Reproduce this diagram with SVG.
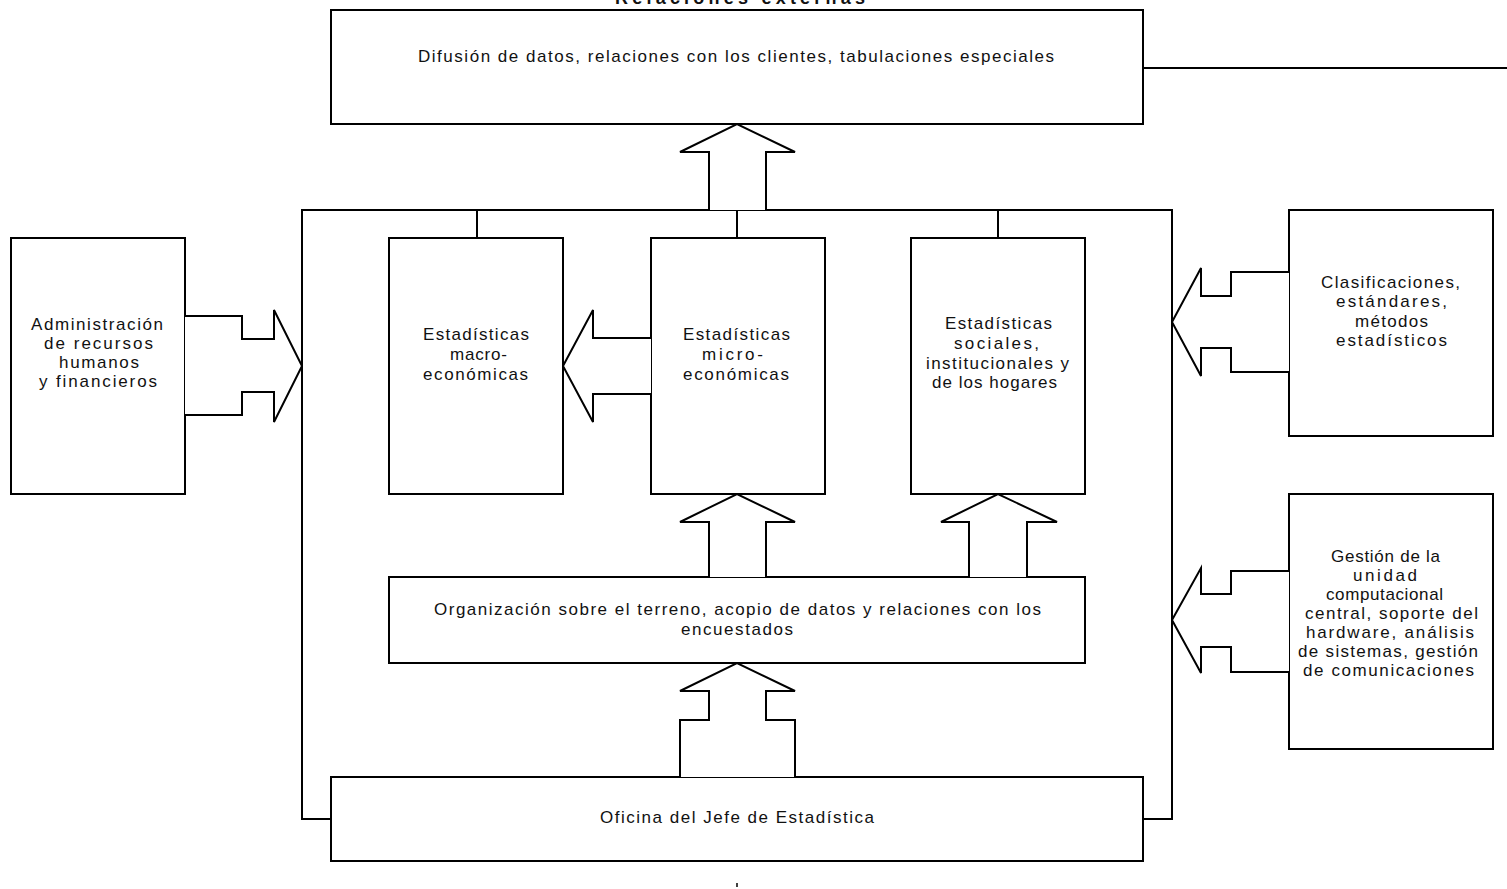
<svg xmlns="http://www.w3.org/2000/svg" width="1507" height="889" viewBox="0 0 1507 889">
<style>
.box{fill:#fff;stroke:#000;stroke-width:2}
.ln{fill:none;stroke:#000;stroke-width:2}
.arw{fill:#fff;stroke:#000;stroke-width:2;stroke-linejoin:miter}
text{font-family:"Liberation Sans",Arial,sans-serif;font-size:17px;fill:#111}
.ttl{font-weight:bold;font-size:18px}
</style>
<rect width="1507" height="889" fill="#fff"/>
<g id="frame">
<path class="ln" d="M331,819 H302 V210 H1172 V819 H1143"/>
</g>
<g id="title">
<text class="ttl" x="615" y="4" textLength="250" lengthAdjust="spacing">Relaciones externas</text>
</g>
<g id="difusion">
<rect class="box" x="331" y="10" width="812" height="114"/>
<text x="418" y="62" textLength="636" lengthAdjust="spacing">Difusión de datos, relaciones con los clientes, tabulaciones especiales</text>
</g>
<g id="administracion">
<rect class="box" x="11" y="238" width="174" height="256"/>
<text x="31" y="330" textLength="132" lengthAdjust="spacing">Administración</text>
<text x="44" y="349" textLength="109" lengthAdjust="spacing">de recursos</text>
<text x="59" y="368" textLength="80" lengthAdjust="spacing">humanos</text>
<text x="39" y="387" textLength="118" lengthAdjust="spacing">y financieros</text>
</g>
<g id="macro">
<rect class="box" x="389" y="238" width="174" height="256"/>
<text x="423" y="340" textLength="106" lengthAdjust="spacing">Estadísticas</text>
<text x="450" y="360" textLength="57" lengthAdjust="spacing">macro-</text>
<text x="423" y="380" textLength="105" lengthAdjust="spacing">económicas</text>
</g>
<g id="micro">
<rect class="box" x="651" y="238" width="174" height="256"/>
<text x="683" y="340" textLength="107" lengthAdjust="spacing">Estadísticas</text>
<text x="702" y="360" textLength="61" lengthAdjust="spacing">micro-</text>
<text x="683" y="380" textLength="106" lengthAdjust="spacing">económicas</text>
</g>
<g id="sociales">
<rect class="box" x="911" y="238" width="174" height="256"/>
<text x="945" y="329" textLength="107" lengthAdjust="spacing">Estadísticas</text>
<text x="954" y="349" textLength="85" lengthAdjust="spacing">sociales,</text>
<text x="926" y="369" textLength="143" lengthAdjust="spacing">institucionales y</text>
<text x="932" y="388" textLength="125" lengthAdjust="spacing">de los hogares</text>
</g>
<g id="clasificaciones">
<rect class="box" x="1289" y="210" width="204" height="226"/>
<text x="1321" y="288" textLength="139" lengthAdjust="spacing">Clasificaciones,</text>
<text x="1336" y="307" textLength="111" lengthAdjust="spacing">estándares,</text>
<text x="1355" y="327" textLength="73" lengthAdjust="spacing">métodos</text>
<text x="1336" y="346" textLength="111" lengthAdjust="spacing">estadísticos</text>
</g>
<g id="gestion">
<rect class="box" x="1289" y="494" width="204" height="255"/>
<text x="1331" y="562" textLength="109" lengthAdjust="spacing">Gestión de la</text>
<text x="1353" y="581" textLength="64" lengthAdjust="spacing">unidad</text>
<text x="1326" y="600" textLength="117" lengthAdjust="spacing">computacional</text>
<text x="1305" y="619" textLength="173" lengthAdjust="spacing">central, soporte del</text>
<text x="1306" y="638" textLength="168" lengthAdjust="spacing">hardware, análisis</text>
<text x="1298" y="657" textLength="180" lengthAdjust="spacing">de sistemas, gestión</text>
<text x="1303" y="676" textLength="171" lengthAdjust="spacing">de comunicaciones</text>
</g>
<g id="organizacion">
<rect class="box" x="389" y="577" width="696" height="86"/>
<text x="434" y="615" textLength="607" lengthAdjust="spacing">Organización sobre el terreno, acopio de datos y relaciones con los</text>
<text x="681" y="635" textLength="112" lengthAdjust="spacing">encuestados</text>
</g>
<g id="oficina">
<rect class="box" x="331" y="777" width="812" height="84"/>
<text x="600" y="823" textLength="274" lengthAdjust="spacing">Oficina del Jefe de Estadística</text>
</g>
<g id="connectors">
<line class="ln" x1="1143" y1="68" x2="1507" y2="68"/>
<line class="ln" x1="477" y1="210" x2="477" y2="238"/>
<line class="ln" x1="737" y1="210" x2="737" y2="238"/>
<line class="ln" x1="998" y1="210" x2="998" y2="238"/>
<polyline class="arw" points="709,210 709,152 680,152 737,124 795,152 766,152 766,210"/>
<polyline class="arw" points="709,577 709,522 680,522 737,494 795,522 766,522 766,577"/>
<polyline class="arw" points="969,577 969,522 941,522 998,494 1057,522 1027,522 1027,577"/>
<polyline class="arw" points="680,777 680,720 709,720 709,691 680,691 737,663 795,691 766,691 766,720 795,720 795,777"/>
<polyline class="arw" points="651,338 593,338 593,310 563,366 593,422 593,394 651,394"/>
<polyline class="arw" points="185,316 242,316 242,339 274,339 274,310 302,366 274,422 274,392 242,392 242,415 185,415"/>
<polyline class="arw" points="1289,272 1231,272 1231,296 1201,296 1201,268 1172,322 1201,376 1201,348 1231,348 1231,372 1289,372"/>
<polyline class="arw" points="1289,571 1231,571 1231,594 1201,594 1201,568 1172,620 1201,673 1201,647 1231,647 1231,672 1289,672"/>
</g>
<line x1="737" y1="883" x2="737" y2="887" stroke="#000" stroke-width="1.5"/>
</svg>
